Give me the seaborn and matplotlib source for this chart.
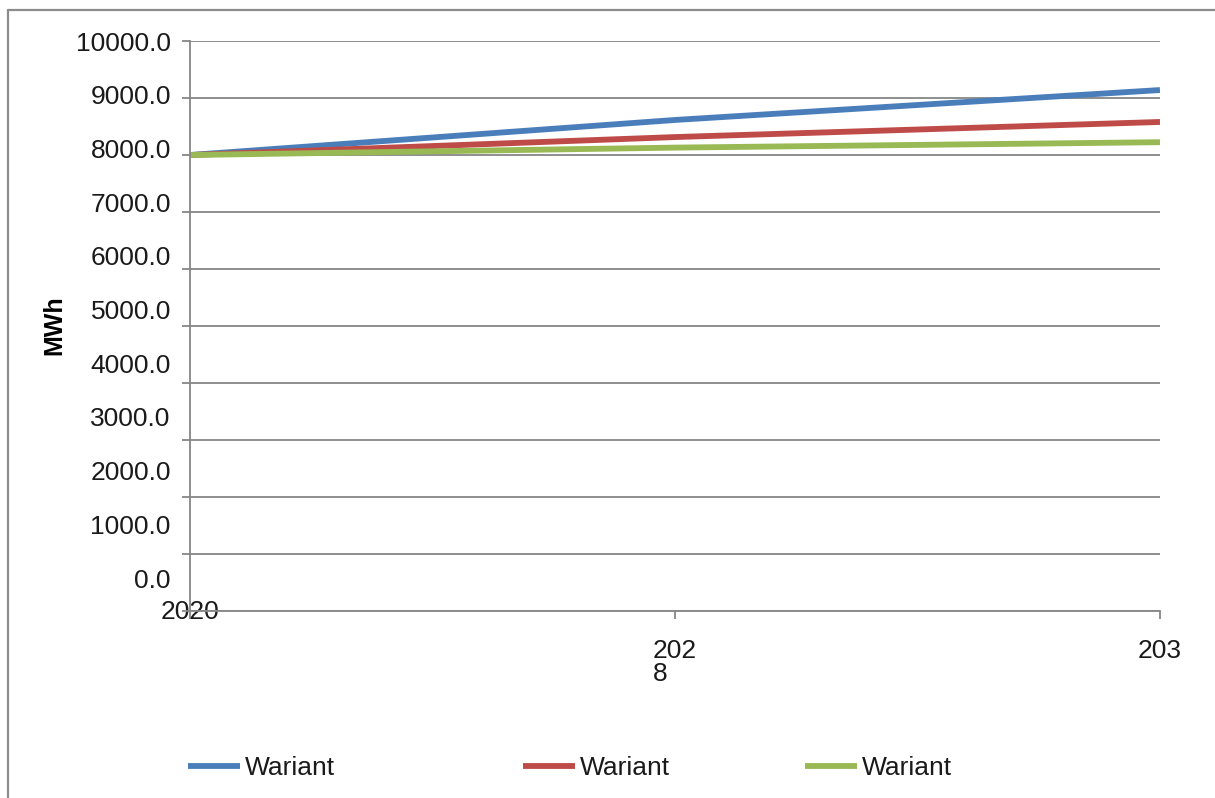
import matplotlib
matplotlib.use("Agg")
import matplotlib.pyplot as plt
import matplotlib.transforms as mtransforms
from matplotlib.lines import Line2D
import seaborn as sns

# data
years = [2020, 2028, 2036]
wariant_blue = [8000, 8615, 9140]
wariant_red = [8000, 8315, 8580]
wariant_green = [8000, 8130, 8225]
series_labels = ["Wariant", "Wariant", "Wariant"]
x_tick_labels = ["2020", "202\n8", "203"]
y_ticks = list(range(0, 10001, 1000))

COLORS = ["#4A7EBB", "#BE4B48", "#98B954"]
GRID = "#868686"
TEXT = "#1a1a1a"

sns.set_style("white")
plt.rcParams["font.family"] = ["Liberation Sans", "DejaVu Sans"]

fig, ax = plt.subplots(figsize=(12.15, 7.98), dpi=100)
fig.subplots_adjust(left=0.1564, right=0.9547, top=0.9486, bottom=0.2343)

for vals, col, lab in zip([wariant_blue, wariant_red, wariant_green], COLORS, series_labels):
    sns.lineplot(x=years, y=vals, color=col, linewidth=4.2, label=lab, ax=ax, legend=False)
for ln in ax.lines:
    ln.set_solid_capstyle("butt")

ax.set_xlim(2020, 2036)
ax.set_ylim(0, 10000)
ax.set_yticks(y_ticks)
ax.set_yticklabels([f"{v:.1f}" for v in y_ticks])
ax.set_xticks(years)
ax.set_xticklabels(x_tick_labels)
ax.set_xlabel("")

ax.yaxis.grid(True, color=GRID, linewidth=1.3)
ax.xaxis.grid(False)
ax.set_axisbelow(True)
for s in ["top", "right"]:
    ax.spines[s].set_visible(False)
for s in ["left", "bottom"]:
    ax.spines[s].set_color(GRID)
    ax.spines[s].set_linewidth(1.3)

ax.tick_params(axis="y", left=True, direction="out", length=5.8, width=1.3, color=GRID,
               pad=8, labelsize=19, labelcolor=TEXT)
ax.tick_params(axis="x", bottom=True, direction="out", length=5.8, width=1.3, color=GRID,
               pad=14, labelsize=19, labelcolor=TEXT)

# the y labels drift upward in the original
for lab, v in zip(ax.get_yticklabels(), y_ticks):
    dy = (10000 - v) / 1000 * 3.3 / 100
    lab.set_transform(lab.get_transform() + mtransforms.ScaledTranslation(0, dy, fig.dpi_scale_trans))

xl = ax.get_xticklabels()
xl[0].set_transform(xl[0].get_transform() + mtransforms.ScaledTranslation(0, 0.39, fig.dpi_scale_trans))
xl[1].set_multialignment("left")
xl[1].set_linespacing(0.97)

ax.set_ylabel("MWh", fontsize=18, fontweight="bold", color="black")
ax.yaxis.set_label_coords(-0.127, 0.502)

# legend entries are spread unevenly, so one legend per entry
for ln, lab, xa in zip(ax.lines, series_labels, [0.1547, 0.4305, 0.6626]):
    fig.legend(handles=[ln], labels=[lab], loc="center left", bbox_to_anchor=(xa, 0.0375),
               frameon=False, fontsize=19, handlelength=1.97, handletextpad=0.2,
               borderpad=0, borderaxespad=0, labelcolor=TEXT)

# chart area border (left + top only visible)
fig.add_artist(Line2D([0.0066, 0.0066], [0, 0.988], transform=fig.transFigure, color="#8c8c8c", lw=1.6))
fig.add_artist(Line2D([0.0066, 1], [0.988, 0.988], transform=fig.transFigure, color="#8c8c8c", lw=1.6))

fig.savefig("out.png", dpi=100)
